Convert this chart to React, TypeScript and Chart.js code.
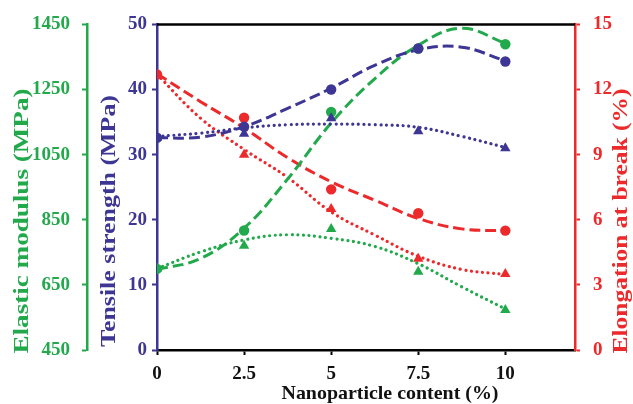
import React, { useEffect, useRef } from "react";
import { Chart, registerables } from "chart.js";

Chart.register(...registerables);

const GREEN = "#22a94b";
const BLUE = "#3d3694";
const RED = "#ec2a2c";
const FONT = "'Liberation Serif', 'Times New Roman', serif";

// Nanoparticle content (%)
const contentPct = [0, 2.5, 5, 7.5, 10];
const xTickValues = [0, 2.5, 5, 7.5, 10];
const tensileTicks = [0, 10, 20, 30, 40, 50];
const elasticTicks = [450, 650, 850, 1050, 1250, 1450];
const elongTicks = [0, 3, 6, 9, 12, 15];

// Measured values (circles and triangles)
const tensileCircle = [32.6, 34.3, 40.0, 46.3, 44.3];
const tensileTri = [32.6, 33.2, 35.6, 33.6, 31.0];
const elasticCircle = [699, 817, 1181, 1376, 1389];
const elasticTri = [700, 770, 822, 690, 573];
const elongCircle = [12.7, 10.7, 7.4, 6.3, 5.5];
const elongTri = [12.7, 9.0, 6.5, 4.2, 3.5];

// Trend curves
const fitX = [0, 1.25, 2.5, 3.75, 5, 6.25, 7.5, 8.75, 10];
const tensileCircleFit = [32.6, 32.7, 34.3, 37.1, 40.2, 43.7, 46.1, 46.5, 44.4];
const tensileTriFit = [32.8, 33.3, 34.1, 34.6, 34.7, 34.6, 34.2, 32.8, 31.1];
const elasticCircleFit = [697, 731, 824, 975, 1147, 1283, 1386, 1438, 1392];
const elasticTriFit = [700, 751, 788, 804, 793, 768, 715, 644, 576];
const elongCircleFit = [12.73, 11.44, 10.23, 8.86, 7.75, 6.9, 6.06, 5.58, 5.5];
const elongTriFit = [12.7, 10.68, 9.24, 7.95, 6.36, 5.3, 4.32, 3.71, 3.48];

const xTitle = "Nanoparticle content (%)";
const elasticTitle = "Elastic modulus (MPa)";
const tensileTitle = "Tensile strength (MPa)";
const elongTitle = "Elongation at break (%)";

const pts = (ys: number[]) => contentPct.map((x, i) => ({ x, y: ys[i] }));
const fitPts = (ys: number[]) => fitX.map((x, i) => ({ x, y: ys[i] }));

const DASH = [11, 5];
const DOT = [0.01, 5.6];

const titlePlugin = {
  id: "axisTitles",
  afterDraw(chart: any) {
    const ctx = chart.ctx;
    const { top, left, right } = chart.chartArea;
    ctx.save();
    ctx.strokeStyle = "#000";
    ctx.lineWidth = 2.5;
    ctx.beginPath();
    ctx.moveTo(left, top);
    ctx.lineTo(right, top);
    ctx.stroke();
    ctx.restore();

    const drawText = (text: string, x: number, y: number, rot: number, color: string, len: number, size: number) => {
      ctx.save();
      ctx.font = `bold ${size}px ${FONT}`;
      ctx.fillStyle = color;
      ctx.textAlign = "center";
      ctx.textBaseline = "middle";
      ctx.translate(x, y);
      ctx.rotate(rot);
      const w = ctx.measureText(text).width;
      ctx.scale(len / w, 1);
      ctx.fillText(text, 0, 0);
      ctx.restore();
    };
    drawText(elasticTitle, 23, 221, -Math.PI / 2, GREEN, 265, 21);
    drawText(tensileTitle, 110, 221, -Math.PI / 2, BLUE, 252, 21);
    drawText(elongTitle, 622, 221, -Math.PI / 2, RED, 265, 21);
    drawText(xTitle, 390, 394, 0, "#111", 217, 19);
  },
};

const tickFont = { family: FONT, size: 19, weight: "bold" as const };

export default function App() {
  const ref = useRef<HTMLCanvasElement | null>(null);

  useEffect(() => {
    if (!ref.current) return;
    const lineDs = (data: any[], color: string, axis: string, dash: number[]) => ({
      type: "line" as const,
      data,
      yAxisID: axis,
      borderColor: color,
      backgroundColor: color,
      borderWidth: dash === DOT ? 3.2 : 3,
      borderDash: dash,
      borderCapStyle: dash === DOT ? ("round" as const) : ("butt" as const),
      pointRadius: 0,
      tension: 0.4,
      fill: false,
      order: 2,
    });
    const markDs = (data: any[], color: string, axis: string, style: string) => ({
      type: "line" as const,
      data,
      yAxisID: axis,
      showLine: false,
      borderColor: color,
      backgroundColor: color,
      pointStyle: style,
      pointRadius: style === "triangle" ? 6 : 5.2,
      pointBorderWidth: 0,
      order: 0,
    });

    const chart = new Chart(ref.current, {
      type: "line",
      data: {
        datasets: [
          lineDs(fitPts(tensileCircleFit), BLUE, "yT", DASH),
          lineDs(fitPts(tensileTriFit), BLUE, "yT", DOT),
          lineDs(fitPts(elasticCircleFit), GREEN, "yE", DASH),
          lineDs(fitPts(elasticTriFit), GREEN, "yE", DOT),
          lineDs(fitPts(elongCircleFit), RED, "yL", DASH),
          lineDs(fitPts(elongTriFit), RED, "yL", DOT),
          markDs(pts(tensileCircle), BLUE, "yT", "circle"),
          markDs(pts(tensileTri), BLUE, "yT", "triangle"),
          markDs(pts(elasticCircle), GREEN, "yE", "circle"),
          markDs(pts(elasticTri), GREEN, "yE", "triangle"),
          markDs(pts(elongCircle), RED, "yL", "circle"),
          markDs(pts(elongTri), RED, "yL", "triangle"),
        ] as any,
      },
      options: {
        animation: false,
        responsive: false,
        maintainAspectRatio: false,
        layout: { padding: { top: 20, left: 0, right: 0, bottom: 0 } },
        plugins: { legend: { display: false }, tooltip: { enabled: false } },
        scales: {
          x: {
            type: "linear",
            position: "bottom",
            min: 0,
            max: 12,
            afterBuildTicks: (s: any) => {
              s.ticks = xTickValues.map((v) => ({ value: v }));
            },
            afterFit: (s: any) => {
              s.height = 54;
            },
            ticks: {
              color: "#111",
              font: tickFont,
              padding: 8,
              maxRotation: 0,
              autoSkip: false,
              callback: (v: any) => String(v),
            },
            grid: { drawOnChartArea: false, color: "#000", tickLength: 5, tickWidth: 2 },
            border: { color: "#000", width: 2.5 },
          },
          yE: {
            type: "linear",
            position: "left",
            weight: 2,
            min: 450,
            max: 1450,
            afterBuildTicks: (s: any) => {
              s.ticks = elasticTicks.map((v) => ({ value: v }));
            },
            afterFit: (s: any) => {
              s.width = 87;
            },
            ticks: { color: GREEN, font: tickFont, padding: 12, callback: (v: any) => String(v) },
            grid: { drawOnChartArea: false, color: GREEN, tickLength: 5, tickWidth: 2 },
            border: { color: GREEN, width: 2.5 },
          },
          yT: {
            type: "linear",
            position: "left",
            weight: 1,
            min: 0,
            max: 50,
            afterBuildTicks: (s: any) => {
              s.ticks = tensileTicks.map((v) => ({ value: v }));
            },
            afterFit: (s: any) => {
              s.width = 70;
            },
            ticks: { color: BLUE, font: tickFont, padding: 5, callback: (v: any) => String(v) },
            grid: { drawOnChartArea: false, color: BLUE, tickLength: 5, tickWidth: 2 },
            border: { color: BLUE, width: 2.5 },
          },
          yL: {
            type: "linear",
            position: "right",
            min: 0,
            max: 15,
            afterBuildTicks: (s: any) => {
              s.ticks = elongTicks.map((v) => ({ value: v }));
            },
            afterFit: (s: any) => {
              s.width = 58;
            },
            ticks: { color: RED, font: tickFont, padding: 13, callback: (v: any) => String(v) },
            grid: { drawOnChartArea: false, color: RED, tickLength: 5, tickWidth: 2 },
            border: { color: RED, width: 2.5 },
          },
        },
      } as any,
      plugins: [titlePlugin],
    });
    return () => chart.destroy();
  }, []);

  return (
    <div style={{ position: "fixed", left: 0, top: 0, width: 633, height: 404, background: "#fff" }}>
      <canvas ref={ref} width={633} height={404} style={{ display: "block" }} />
    </div>
  );
}
